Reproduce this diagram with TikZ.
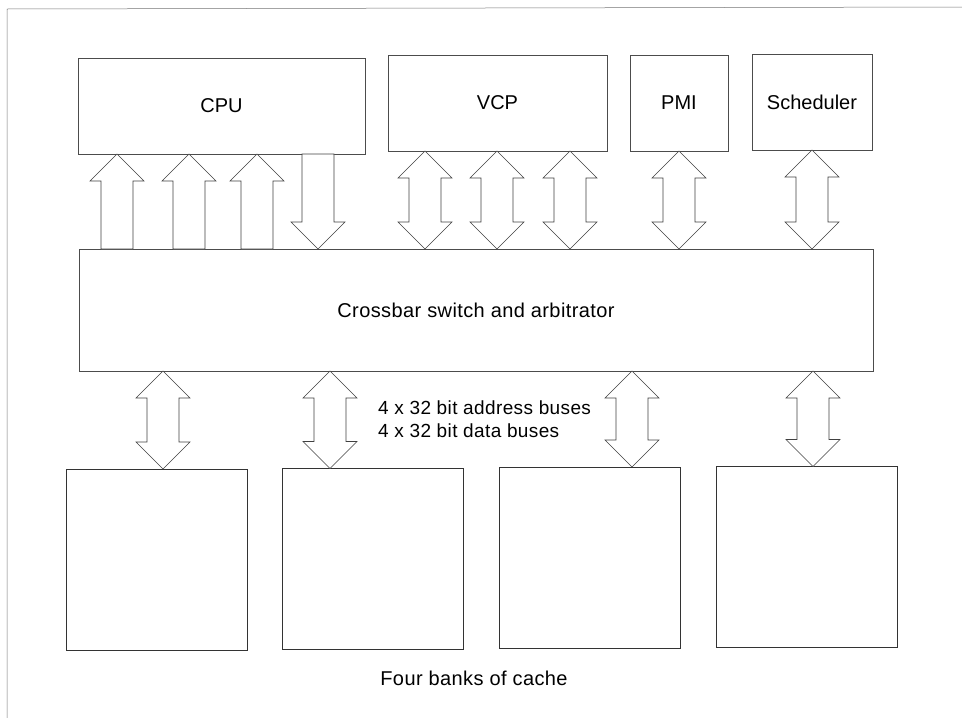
\documentclass[tikz,border=0pt]{standalone}
\usepackage{fontspec}
\setmainfont{Liberation Sans}
\newfontfamily\spacedfont[LetterSpace=2]{Liberation Sans}
\usetikzlibrary{calc}
\tikzset{
  box/.style={draw=black!70, line width=0.6pt, inner sep=0pt, outer sep=0pt, font=\fontsize{20}{24}\selectfont},
  cachebox/.style={draw=black!80, line width=0.7pt, inner sep=0pt, outer sep=0pt, minimum width=181pt, minimum height=181pt},
  fat/.style={draw=black!75, line width=0.6pt, fill=white, line join=miter},
  frameline/.style={draw=black!55, line width=0.5pt},
  smalltext/.style={inner sep=0pt, font=\spacedfont\fontsize{19}{23}\selectfont}
}
% up arrow: x, tail node (below), tip node (above)
\newcommand\fatup[3]{%
  \draw[fat] let \p1=(#3.south), \p2=(#2.north) in
    (#1pt,\y1) -- ++(27pt,-27pt) -- ++(-11pt,0pt) -- ({#1pt+16pt},\y2)
    -- ({#1pt-16pt},\y2) -- ({#1pt-16pt},{\y1-27pt}) -- ++(-11pt,0pt) -- cycle;}
% down arrow: x, tail node (above), tip node (below)
\newcommand\fatdown[3]{%
  \draw[fat] let \p1=(#2.south), \p2=(#3.north) in
    (#1pt,\y2) -- ++(27pt,27pt) -- ++(-11pt,0pt) -- ({#1pt+16pt},\y1)
    -- ({#1pt-16pt},\y1) -- ({#1pt-16pt},{\y2+27pt}) -- ++(-11pt,0pt) -- cycle;}
% double arrow: x, upper node, lower node
\newcommand\fatboth[3]{%
  \draw[fat] let \p1=(#2.south), \p2=(#3.north) in
    (#1pt,\y1) -- ++(27pt,-27pt) -- ++(-11pt,0pt) -- ({#1pt+16pt},{\y2+27pt})
    -- ++(11pt,0pt) -- (#1pt,\y2) -- ++(-27pt,27pt) -- ++(11pt,0pt)
    -- ({#1pt-16pt},{\y1-27pt}) -- ++(-11pt,0pt) -- cycle;}
\begin{document}
\begin{tikzpicture}[x=1pt,y=-1pt]
\useasboundingbox (0,0) rectangle (962,718);
% page frame (left and top edges)
\coordinate (fbl) at (7,718);
\coordinate (ftl) at (7,9);
\coordinate (ftr) at (962,7);
\draw[frameline] (fbl) -- (ftl) -- (ftr);

% top units
\node[box, minimum width=287pt, minimum height=96pt] (cpu) at (221.5,106) {CPU};
\node[box, minimum width=219pt, minimum height=96pt] (vcp) at (497.5,103) {VCP};
\node[box, minimum width=98pt, minimum height=96pt] (pmi) at (679,103) {PMI};
\node[box, minimum width=120pt, minimum height=96pt] (sch) at (812,102) {Scheduler};

% crossbar
\node[box, minimum width=794pt, minimum height=122pt, font=\spacedfont\fontsize{20}{24}\selectfont] (bar) at (476,310) {Crossbar switch and arbitrator};

% cache banks
\node[cachebox] (c1) at (157,559.5) {};
\node[cachebox] (c2) at (372.5,559) {};
\node[cachebox] (c3) at (590,557.5) {};
\node[cachebox] (c4) at (807,557) {};

% connectors CPU <-> crossbar
\fatup{117}{bar}{cpu}
\fatup{189}{bar}{cpu}
\fatup{257}{bar}{cpu}
\fatdown{318}{cpu}{bar}
% VCP, PMI, Scheduler <-> crossbar
\fatboth{425}{vcp}{bar}
\fatboth{497}{vcp}{bar}
\fatboth{570}{vcp}{bar}
\fatboth{679}{pmi}{bar}
\fatboth{812}{sch}{bar}
% crossbar <-> cache
\fatboth{163}{bar}{c1}
\fatboth{330}{bar}{c2}
\fatboth{632}{bar}{c3}
\fatboth{813}{bar}{c4}

% labels
\node[smalltext, anchor=base west] (bus1) at (378,414) {4 x 32 bit address buses};
\node[smalltext, anchor=base west] (bus2) at (378,437) {4 x 32 bit data buses};
\node[inner sep=0pt, anchor=base, font=\spacedfont\fontsize{20}{24}\selectfont] (cap) at (474,685) {Four banks of cache};
\end{tikzpicture}
\end{document}
